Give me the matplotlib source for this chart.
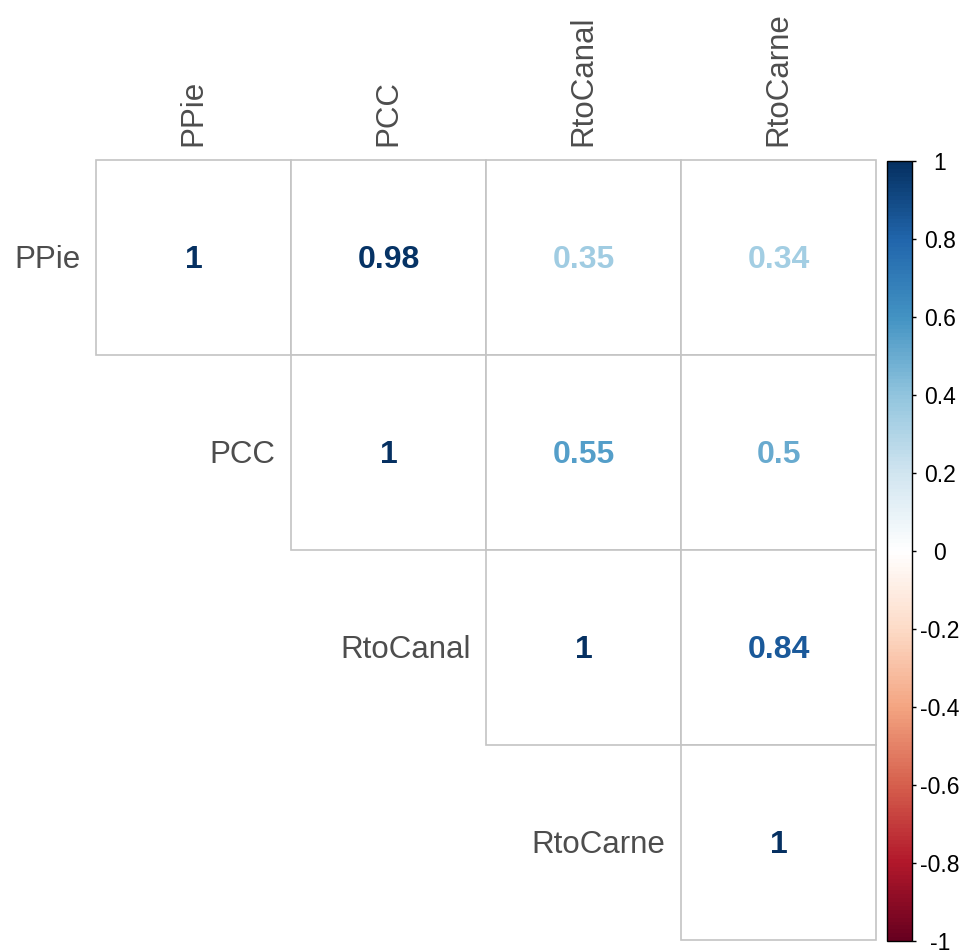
import matplotlib
matplotlib.use("Agg")
import matplotlib.pyplot as plt
import matplotlib.colors as mcolors
import matplotlib.cm as cm
from matplotlib.patches import Rectangle
import numpy as np

variables = ["PPie", "PCC", "RtoCanal", "RtoCarne"]
corr = [
    [1.00, 0.98, 0.35, 0.34],
    [0.98, 1.00, 0.55, 0.50],
    [0.35, 0.55, 1.00, 0.84],
    [0.34, 0.50, 0.84, 1.00],
]
palette = ["#67001F", "#B2182B", "#D6604D", "#F4A582", "#FDDBC7", "#FFFFFF",
           "#D1E5F0", "#92C5DE", "#4393C3", "#2166AC", "#053061"]
cbar_ticks = [-1, -0.8, -0.6, -0.4, -0.2, 0, 0.2, 0.4, 0.6, 0.8, 1]

plt.rcParams['font.family'] = ['Liberation Sans', 'DejaVu Sans']

W, H = 968, 951
fig = plt.figure(figsize=(W / 100, H / 100), dpi=100)

def fax(x0, y0, x1, y1):
    return [x0 / W, 1 - y1 / H, (x1 - x0) / W, (y1 - y0) / H]

cmap = mcolors.LinearSegmentedColormap.from_list("rdbu", palette, N=200)
norm = mcolors.Normalize(vmin=-1, vmax=1)

n = len(variables)
ax = fig.add_axes(fax(96, 160, 876, 940))
ax.set_xlim(0, n)
ax.set_ylim(n, 0)
ax.axis('off')

label_color = "#4D4D4D"
grid_color = "#C4C4C4"
dy = 0.015
for i in range(n):
    for j in range(i, n):
        ax.add_patch(Rectangle((j, i), 1, 1, facecolor='white',
                               edgecolor=grid_color, linewidth=1.2, clip_on=False))
        v = corr[i][j]
        txt = "1" if v == 1 else f"{v:g}"
        ax.text(j + 0.5, i + 0.5 + dy, txt, ha='center', va='center',
                fontsize=23, fontweight='bold', color=cmap(norm(v)))
    # row labels
    ax.text(i - 0.08, i + 0.5 + dy, variables[i], ha='right', va='center',
            fontsize=22.5, color=label_color, clip_on=False)
    # column labels
    ax.text(i + 0.5, -0.07, variables[i], ha='center', va='bottom',
            rotation=90, fontsize=22.5, color=label_color, clip_on=False)

cax = fig.add_axes(fax(887, 161, 912, 941))
sm = cm.ScalarMappable(norm=norm, cmap=cmap)
cb = fig.colorbar(sm, cax=cax, ticks=cbar_ticks)
cb.outline.set_edgecolor('black')
cb.outline.set_linewidth(1.0)
cb.ax.set_yticklabels([("%g" % t) for t in cbar_ticks])
cb.ax.tick_params(axis='y', length=3, width=1, pad=17, labelsize=16.5,
                  colors='black')
for lab in cb.ax.get_yticklabels():
    lab.set_horizontalalignment('center')

fig.savefig("out.png", dpi=100, facecolor='white')
